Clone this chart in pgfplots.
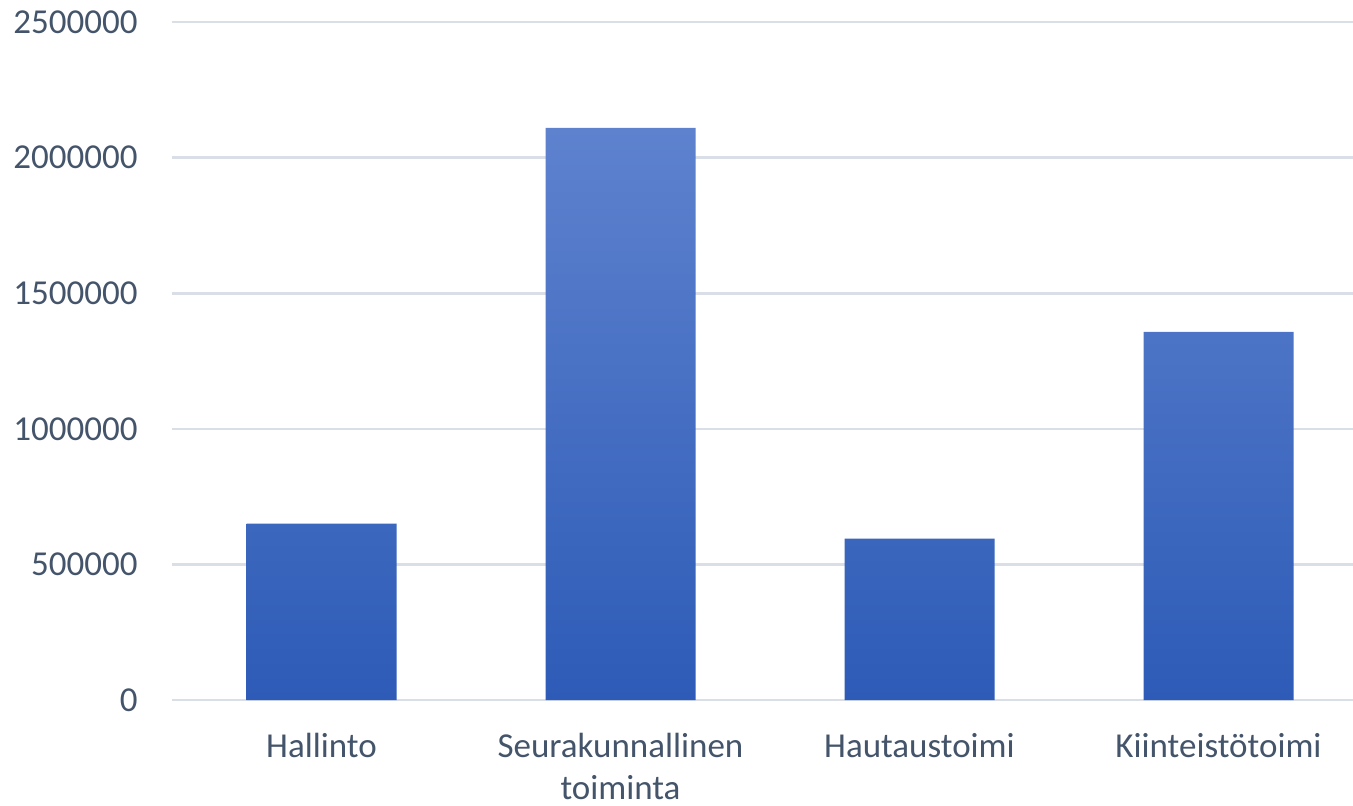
\documentclass[border=0pt]{standalone}
\usepackage{pgfplots}
\pgfplotsset{compat=1.18}
\usepackage{fontspec}
\setmainfont{Carlito}
\definecolor{txt}{HTML}{44546A}
\definecolor{gridc}{HTML}{D9DEE7}
\definecolor{bartop}{HTML}{5E82CE}
\definecolor{barbot}{HTML}{2D5BB7}
\begin{document}
\begin{tikzpicture}
\begin{axis}[
  scale only axis,
  width=598pt, height=339pt,
  xmin=-0.5, xmax=3.5,
  ymin=0, ymax=2500000,
  axis line style={draw=none},
  major tick length=0pt,
  ymajorgrids,
  grid style={draw=gridc, line width=1.3pt},
  ytick={0,500000,1000000,1500000,2000000,2500000},
  scaled y ticks=false,
  /pgf/number format/assume math mode=true,
  yticklabel style={/pgf/number format/fixed, /pgf/number format/set thousands separator={}, anchor=east, inner sep=0pt, xshift=-17pt},
  xtick={0,1,2,3},
  xticklabels={Hallinto,{\begin{tabular}[t]{@{}c@{}}Seurakunnallinen\\toiminta\end{tabular}},Hautaustoimi,Kiinteistötoimi},
  xticklabel style={anchor=base, inner sep=0pt, yshift=-28.5pt},
  tick label style={font=\fontsize{17.5}{21}\selectfont, text=txt},
  clip=false,
]
\addplot[ybar, bar width=75pt, draw=none, top color=bartop, bottom color=barbot]
  coordinates {(0,650000) (1,2110000) (2,595000) (3,1357000)};
\coordinate (o) at (rel axis cs:0,0);
\end{axis}
\pgfresetboundingbox
\path ([xshift=-86pt,yshift=-52.5pt]o) rectangle ++(676.5pt,402.5pt);
\end{tikzpicture}
\end{document}
